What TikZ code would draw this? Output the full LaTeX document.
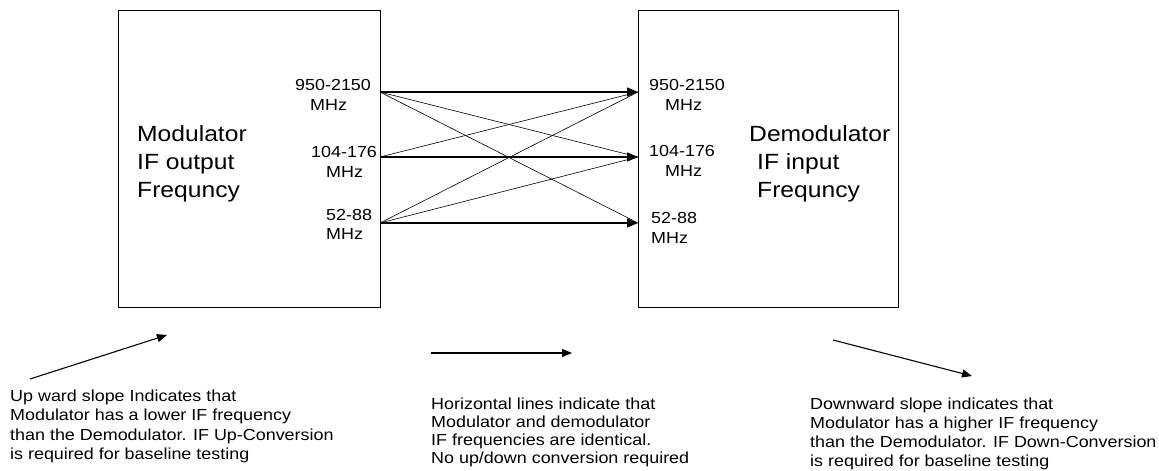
\documentclass[tikz,border=0pt]{standalone}
\usepackage{fontspec}
\setmainfont{Liberation Sans}[FakeStretch=1.12]
\usetikzlibrary{arrows.meta}
\begin{document}
\begin{tikzpicture}[x=1pt,y=-1pt,
  box/.style={draw, line width=0.8pt, inner sep=0pt, anchor=north west},
  big/.style={anchor=base west, inner sep=0pt, font=\fontsize{22}{28}\selectfont},
  lab/.style={anchor=base west, inner sep=0pt, font=\fontsize{16}{19}\selectfont},
  hlink/.style={line width=1.4pt, -{Triangle[length=11pt,width=9pt]}},
  dlink/.style={line width=0.6pt},
  slope/.style={line width=1.1pt, -{Triangle[length=10pt,width=8pt]}}]
\useasboundingbox (0,0) rectangle (1159,471);
% boxes
\node[box, minimum width=262pt, minimum height=297pt] (mod) at (118,10) {};
\node[box, minimum width=260pt, minimum height=297pt] (dem) at (638,10) {};
% box titles
\node[big] (m1) at (137,141) {Modulator};
\node[big] (m2) at (137,169) {IF output};
\node[big] (m3) at (137,197) {Frequncy};
\node[big] (d1) at (749,141) {Demodulator};
\node[big] (d2) at (757,169) {IF input};
\node[big] (d3) at (757,197) {Frequncy};
% left port labels
\node[lab] (la1) at (295,90) {950-2150};
\node[lab] (lb1) at (310,110) {MHz};
\node[lab] (la2) at (311,157) {104-176};
\node[lab] (lb2) at (326,177) {MHz};
\node[lab] (la3) at (326,220) {52-88};
\node[lab] (lb3) at (326,239) {MHz};
% right port labels
\node[lab] (ra1) at (649,90) {950-2150};
\node[lab] (rb1) at (665,110) {MHz};
\node[lab] (ra2) at (649,156) {104-176};
\node[lab] (rb2) at (665,176) {MHz};
\node[lab] (ra3) at (651,223) {52-88};
\node[lab] (rb3) at (651,243) {MHz};
% ports
\coordinate (L1) at (380,92);
\coordinate (L2) at (380,157);
\coordinate (L3) at (380,223);
\coordinate (R1) at (638,92);
\coordinate (R2) at (638,157);
\coordinate (R3) at (638,223);
% links
\draw[dlink] (L1) -- (R2);
\draw[dlink] (L1) -- (R3);
\draw[dlink] (L2) -- (R1);
\draw[dlink] (L3) -- (R1);
\draw[dlink] (L3) -- (R2);
\draw[hlink] (L1) -- (R1);
\draw[hlink] (L2) -- (R2);
\draw[hlink] (L3) -- (R3);
% legend arrows
\coordinate (u1) at (30,379);
\coordinate (u2) at (167,335);
\coordinate (h1) at (431,353);
\coordinate (h2) at (572,353);
\coordinate (w1) at (833,340);
\coordinate (w2) at (972,376);
\draw[slope] (u1) -- (u2);
\draw[slope] (h1) -- (h2);
\draw[slope] (w1) -- (w2);
% legend texts
\node[lab] (t1a) at (10,401) {Up ward slope Indicates that};
\node[lab] (t1b) at (10,420) {Modulator has a lower IF frequency};
\node[lab] (t1c) at (10,440) {than the Demodulator. IF Up-Conversion};
\node[lab] (t1d) at (10,459) {is required for baseline testing};
\node[lab] (t2a) at (431,409) {Horizontal lines indicate that};
\node[lab] (t2b) at (431,427) {Modulator and demodulator};
\node[lab] (t2c) at (431,445) {IF frequencies are identical.};
\node[lab] (t2d) at (431,463) {No up/down conversion required};
\node[lab] (t3a) at (810,409) {Downward slope indicates that};
\node[lab] (t3b) at (810,428) {Modulator has a higher IF frequency};
\node[lab] (t3c) at (810,447) {than the Demodulator. IF Down-Conversion};
\node[lab] (t3d) at (810,466) {is required for baseline testing};
\end{tikzpicture}
\end{document}
